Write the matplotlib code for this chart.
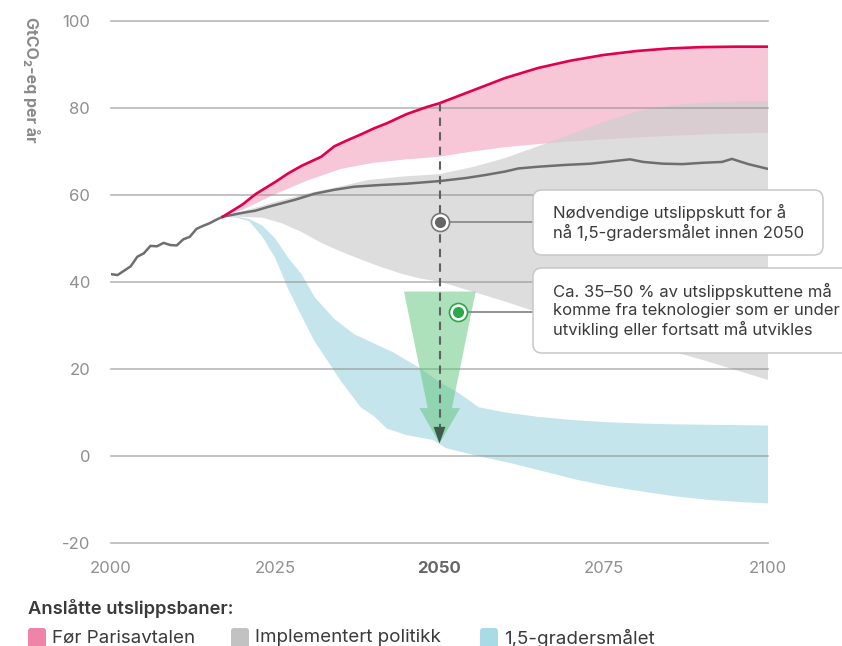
import numpy as np
import matplotlib.pyplot as plt
from matplotlib.patches import FancyBboxPatch

plt.rcParams['font.family'] = ['Inter', 'DejaVu Sans']
plt.rcParams['axes.unicode_minus'] = False

# historical emissions (GtCO2-eq)
hist_years = [2000, 2001, 2002, 2003, 2004, 2005, 2006, 2007, 2008, 2009,
              2010, 2011, 2012, 2013, 2014, 2015, 2016, 2017]
hist_vals = [41.8, 41.6, 42.6, 43.6, 45.8, 46.6, 48.3, 48.2, 49.0, 48.5,
             48.4, 49.8, 50.4, 52.2, 52.9, 53.5, 54.3, 55.0]

# Før Parisavtalen (pink band, upper edge drawn as red line)
red_years = [2017, 2020, 2022, 2025, 2027, 2029, 2032, 2034, 2036, 2038, 2040,
             2042, 2045, 2048, 2050, 2055, 2060, 2065, 2070, 2075, 2080, 2085,
             2090, 2095, 2100]
red_vals = [55.0, 57.8, 60.2, 63.0, 65.0, 66.7, 68.8, 71.2, 72.6, 73.9, 75.3,
            76.5, 78.6, 80.2, 81.1, 84.0, 86.9, 89.2, 90.9, 92.2, 93.1, 93.7,
            94.0, 94.1, 94.1]
pink_lo_years = [2017, 2020, 2025, 2030, 2035, 2040, 2045, 2050, 2055, 2060,
                 2065, 2070, 2075, 2080, 2085, 2090, 2095, 2100]
pink_lo_vals = [55.0, 56.6, 60.2, 63.4, 66.0, 67.4, 68.2, 68.8, 70.0, 71.0,
                71.7, 72.3, 72.8, 73.2, 73.6, 73.9, 74.1, 74.3]

# Implementert politikk (grey band + median line)
gray_hi_years = [2017, 2020, 2025, 2030, 2035, 2039, 2044, 2050, 2055, 2060,
                 2065, 2070, 2075, 2080, 2085, 2090, 2095, 2100]
gray_hi_vals = [55.0, 56.2, 58.4, 60.4, 62.0, 63.4, 64.2, 64.8, 66.4, 68.5,
                71.2, 74.0, 76.8, 79.2, 80.6, 81.2, 81.5, 81.6]
gray_lo_years = [2017, 2020, 2023, 2026, 2029, 2032, 2035, 2038, 2041, 2044,
                 2047, 2050, 2055, 2060, 2065, 2070, 2075, 2080, 2085, 2090,
                 2095, 2100]
gray_lo_vals = [55.0, 55.0, 54.8, 53.5, 51.5, 49.0, 47.0, 45.2, 43.5, 42.0,
                40.8, 40.1, 37.8, 35.5, 33.0, 30.5, 28.3, 26.3, 24.2, 22.1,
                19.8, 17.5]
mid_years = [2017, 2020, 2022, 2024, 2026, 2028, 2031, 2034, 2037, 2041, 2045,
             2050, 2054, 2057, 2060, 2062, 2065, 2069, 2073, 2076, 2079, 2081,
             2084, 2087, 2090, 2093, 2094.5, 2097, 2100]
mid_vals = [55.0, 55.9, 56.4, 57.3, 58.1, 58.9, 60.3, 61.2, 61.9, 62.3, 62.6,
            63.2, 63.9, 64.6, 65.4, 66.1, 66.5, 66.9, 67.2, 67.7, 68.2, 67.6,
            67.2, 67.1, 67.4, 67.6, 68.3, 67.1, 66.0]

# 1,5-gradersmålet (blue band)
blue_hi_years = [2017, 2019, 2021, 2023, 2025, 2027, 2029, 2031, 2034, 2037,
                 2040, 2043, 2047, 2050, 2053, 2056, 2060, 2065, 2070, 2075,
                 2080, 2085, 2090, 2095, 2100]
blue_hi_vals = [55.0, 55.0, 54.5, 53.0, 50.0, 45.5, 41.8, 36.5, 31.5, 28.0,
                25.9, 23.8, 20.2, 17.0, 14.4, 11.2, 10.0, 9.0, 8.3, 7.8, 7.5,
                7.3, 7.2, 7.1, 7.0]
blue_lo_years = [2017, 2019, 2021, 2023, 2025, 2027, 2029, 2031, 2033, 2035,
                 2038, 2040, 2042, 2045, 2049, 2051, 2055, 2061, 2066, 2071,
                 2076, 2081, 2086, 2091, 2096, 2100]
blue_lo_vals = [55.0, 54.8, 54.0, 50.5, 45.5, 38.3, 32.2, 26.3, 21.8, 17.2,
                11.2, 9.2, 6.3, 4.8, 3.7, 1.8, 0.3, -1.7, -3.6, -5.5, -7.0,
                -8.2, -9.3, -10.1, -10.6, -10.9]

y_ticks = [-20, 0, 20, 40, 60, 80, 100]
x_ticks = [2000, 2025, 2050, 2075, 2100]

# annotation anchors
cut_year = 2050
cut_point = 53.8
tech_year = 2052.8
tech_point = 33.2
arrow_top, arrow_bottom = 37.8, 2.9

fig = plt.figure(figsize=(8.42, 6.46), dpi=100)
ax = fig.add_axes([111 / 842, 1 - 543 / 646, 657 / 842, 522 / 646])
ax.set_xlim(2000, 2100)
ax.set_ylim(-20, 100)
for s in ax.spines.values():
    s.set_visible(False)


def band(xu, yu, xl, yl, **kw):
    xs = np.r_[xu, xl[::-1]]
    ys = np.r_[yu, yl[::-1]]
    ax.fill(xs, ys, lw=0, **kw)


band(red_years, red_vals, pink_lo_years, pink_lo_vals, color='#f7c6d7', zorder=1)
band(gray_hi_years, gray_hi_vals, gray_lo_years, gray_lo_vals,
     color='#d0d0d0', alpha=0.72, zorder=2)
band(blue_hi_years, blue_hi_vals, blue_lo_years, blue_lo_vals, color='#c5e5ec', zorder=3)

for yv in y_ticks:
    ax.axhline(yv, color='#8a8a8a', alpha=0.6, lw=1.2, zorder=4, clip_on=False)

# green funnel arrow
fx = [2044.6, 2055.5, 2051.9, 2053.15, cut_year, 2046.95, 2048.2]
fy = [arrow_top, arrow_top, 11.0, 11.0, arrow_bottom, 11.0, 11.0]
ax.fill(fx, fy, color='#5cc47a', alpha=0.5, lw=0, zorder=5)

ax.plot(hist_years, hist_vals, color='#6e6e6e', lw=1.8, zorder=6)
ax.plot(mid_years, mid_vals, color='#6e6e6e', lw=1.8, zorder=6)
ax.plot(red_years, red_vals, color='#e0004f', lw=1.9, zorder=7)

# dashed cut line with dark head
top_2050 = red_vals[red_years.index(cut_year)]
ax.plot([cut_year, cut_year], [top_2050, 6.7], color='#606060', lw=1.5,
        dashes=(4, 3), zorder=8)
ax.fill([cut_year - 0.9, cut_year + 0.9, cut_year], [6.7, 6.7, arrow_bottom],
        color='#3d5a4b', lw=0, zorder=8)

# markers + connectors
box_left_year = 2000 + (533 - 112) / 6.56
ax.plot([cut_year, box_left_year], [cut_point, cut_point], color='#8a8a8a', lw=1.3, zorder=8, clip_on=False)
ax.plot([tech_year, box_left_year], [tech_point, tech_point], color='#8a8a8a', lw=1.3, zorder=8, clip_on=False)
ax.plot(cut_year, cut_point, 'o', ms=13, mfc='white', mec='#777777', mew=1.2, zorder=9)
ax.plot(cut_year, cut_point, 'o', ms=8, mfc='#666666', mec='none', zorder=10)
ax.plot(tech_year, tech_point, 'o', ms=13, mfc='white', mec='#2aa84a', mew=1.2, zorder=9)
ax.plot(tech_year, tech_point, 'o', ms=8, mfc='#2aa84a', mec='none', zorder=10)

ax.set_yticks(y_ticks)
ax.set_xticks(x_ticks)
ax.set_xticklabels([str(v) for v in x_ticks])
ax.tick_params(length=0, labelsize=12, labelcolor='#8f8f8f')
ax.tick_params(axis='y', pad=15)
ax.tick_params(axis='x', pad=13)
for lab in ax.get_xticklabels():
    if lab.get_text() == '2050':
        lab.set_fontweight('bold')
        lab.set_color('#666666')

fig.text(31 / 842, 1 - 17 / 646, 'GtCO₂-eq per år', rotation=-90, ha='center', va='top',
         fontsize=11.5, fontweight='bold', color='#8a8a8a')

# overlay in pixel coordinates for the boxes and legend
lay = fig.add_axes([0, 0, 1, 1], zorder=10)
lay.set_xlim(0, 842)
lay.set_ylim(646, 0)
lay.axis('off')

boxes = [
    (533, 190, 290, 65, 'Nødvendige utslippskutt for å\nnå 1,5-gradersmålet innen 2050'),
    (533, 268, 330, 85, 'Ca. 35–50 % av utslippskuttene må\nkomme fra teknologier som er under\nutvikling eller fortsatt må utvikles'),
]
for bx, by, bw, bh, txt in boxes:
    lay.add_patch(FancyBboxPatch((bx, by), bw, bh, boxstyle='round,pad=0,rounding_size=9',
                                 fc='white', ec='#c8c8c8', lw=1.1, clip_on=False))
    lay.text(bx + 20, by + bh / 2, txt, ha='left', va='center', fontsize=12,
             color='#3a3a3a', linespacing=1.2)

lay.text(28, 609, 'Anslåtte utslippsbaner:', ha='left', va='center', fontsize=13.2,
         fontweight='semibold', color='#3a3a3a')
legend_items = [('Før Parisavtalen', '#f083a8', 28),
                ('Implementert politikk', '#c2c2c2', 231),
                ('1,5-gradersmålet', '#a9dbe6', 480)]
for name, col, lx in legend_items:
    lay.add_patch(FancyBboxPatch((lx, 628), 18, 22, boxstyle='round,pad=0,rounding_size=3',
                                 fc=col, ec='none', clip_on=False))
    lay.text(lx + 24, 638, name, ha='left', va='center', fontsize=13.5, color='#3a3a3a')

fig.savefig('out.png', dpi=100)
